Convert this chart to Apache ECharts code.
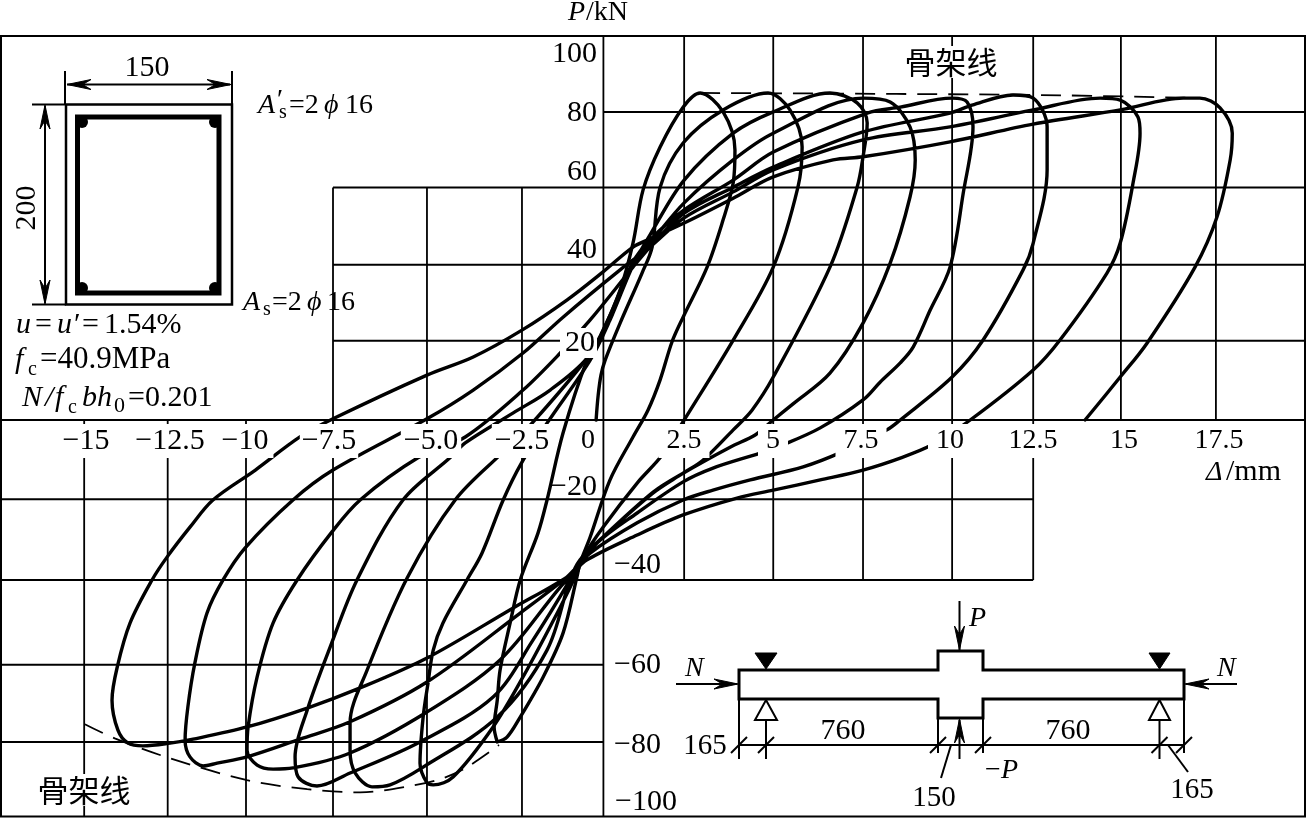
<!DOCTYPE html>
<html>
<head>
<meta charset="utf-8">
<style>
  html, body { margin: 0; padding: 0; background: #fff; }
  #chart { width: 1306px; height: 818px; }
</style>
<script src="https://cdn.jsdelivr.net/npm/echarts@6/dist/echarts.min.js"></script>
</head>
<body>
<div id="chart"></div>
<script>
// hysteresis traces, [deflection mm, load kN]
const cycle1 = [[-3.05,-81.7],[-3.14,-77.9],[-3.05,-71.1],[-2.97,-63.5],[-2.68,-51.5],[-2.39,-40.6],[-1.88,-28.7],[-1.62,-20.3],[-1.16,-3.3],[-0.47,15.2],[-0.09,21.1],[0.48,33.0],[0.85,44.9],[1.14,58.4],[1.63,69.3],[2.29,79.4],[2.78,83.0],[3.44,78.2],[3.78,68.5],[3.73,60.2],[3.44,50.8],[2.98,38.8],[2.29,26.1],[1.97,19.8],[1.63,10.2],[1.28,2.5],[0.85,-4.3],[0.19,-15.2],[-0.38,-29.7],[-0.67,-36.3],[-0.76,-39.8],[-1.16,-54.1],[-1.73,-65.2],[-2.39,-75.4],[-2.77,-80.5],[-3.05,-81.7]];
const cycle2 = [[-0.21,0],[-0.15,6.3],[-0.07,11.4],[0.05,15.2],[0.48,24.6],[1.11,37.3],[1.40,43.9],[1.63,59.1],[2.29,70.3],[3.44,78.7],[4.73,83.0],[5.36,78.7],[5.71,69.3],[5.59,59.1],[4.88,38.8],[3.73,20.3],[2.32,0],[1.69,-8.9],[0.97,-16.0],[-0.01,-27.2],[-0.58,-34.8],[-0.76,-38.8],[-1.24,-47.5],[-2.31,-65.2],[-3.17,-77.9],[-4.32,-90.6],[-4.89,-92.6],[-5.07,-92.1],[-5.27,-87.1],[-5.18,-75.4],[-5.04,-66.8],[-4.89,-58.4],[-4.61,-51.5],[-3.92,-40.6],[-3.49,-33.8],[-2.88,-20.3],[-2.34,-10.7],[-1.62,-0.8],[-0.38,15.2],[0.19,25.4],[0.85,39.3]];
const cycle3 = [[1.34,47.0],[2.32,60.9],[3.73,72.8],[4.88,78.2],[6.51,83.0],[7.29,80.5],[7.58,75.4],[7.46,66.8],[7.29,59.1],[6.51,38.8],[4.88,10.9],[4.27,2.5],[3.73,-2.5],[2.86,-10.2],[2.29,-13.5],[1.43,-18.5],[-0.01,-29.7],[-0.67,-35.5],[-0.96,-40.6],[-1.62,-58.4],[-3.05,-75.4],[-5.18,-88.1],[-6.13,-92.6],[-6.65,-93.1],[-7.13,-89.6],[-7.28,-83.8],[-7.28,-76.9],[-6.79,-63.5],[-5.64,-40.1],[-4.26,-20.3],[-2.88,-8.1],[-2.05,-0.8],[-0.47,15.7],[0.19,25.4],[0.85,40.1]];
const cycle4 = [[1.34,44.9],[2.32,55.1],[3.73,66.0],[4.88,72.8],[7.46,81.7],[8.24,80.7],[8.81,74.4],[8.96,66.0],[8.81,56.6],[8.24,39.8],[7.46,24.6],[6.51,11.9],[5.45,4.1],[4.88,0],[4.36,-3.8],[3.64,-6.9],[2.29,-13.5],[1.43,-18.3],[-0.01,-29.7],[-0.67,-35.5],[-0.96,-40.6],[-2.02,-55.8],[-3.17,-70.3],[-5.27,-81.7],[-7.28,-89.6],[-8.23,-92.9],[-8.77,-90.6],[-8.86,-85.5],[-8.51,-73.6],[-7.85,-57.6],[-7.08,-40.6],[-5.76,-20.3],[-4.41,-9.6],[-3.97,-5.8],[-2.59,1.8],[-1.53,7.6],[-0.47,15.7],[0.19,26.6],[0.85,40.1]];
const cycle5 = [[1.34,45.7],[2.32,53.3],[3.73,60.9],[4.88,68.0],[7.58,77.9],[8.53,79.4],[10.02,81.7],[10.45,80.7],[10.62,74.4],[10.34,57.6],[9.96,38.8],[9.39,27.9],[8.90,18.5],[8.53,14.5],[7.95,9.6],[7.46,5.1],[6.23,-2.0],[5.16,-6.3],[4.50,-8.4],[3.15,-12.2],[2.29,-15.7],[0.97,-23.6],[-0.18,-31.2],[-0.81,-38.6],[-1.24,-42.4],[-2.97,-60.9],[-5.07,-74.1],[-7.28,-84.5],[-8.92,-88.3],[-9.49,-88.6],[-9.95,-87.6],[-10.24,-83.8],[-10.21,-77.9],[-9.95,-65.2],[-9.49,-51.5],[-8.80,-40.6],[-7.80,-28.4],[-6.99,-20.3],[-5.33,-9.6],[-3.97,-4.3],[-2.31,7.6],[-1.24,17.0],[-0.38,25.4],[0.85,38.8]];
const cycle6 = [[1.34,43.9],[2.32,52.5],[3.73,59.1],[4.88,64.2],[7.46,73.1],[9.96,77.9],[10.59,79.9],[11.77,82.5],[12.35,81.7],[12.75,74.4],[12.75,63.5],[12.35,44.9],[12.06,38.1],[10.91,20.3],[10.02,10.9],[8.53,0],[8.15,-2.5],[6.86,-8.1],[5.74,-11.9],[4.22,-15.2],[3.15,-17.8],[2.29,-20.3],[0.97,-26.1],[-0.38,-33.8],[-1.04,-39.8],[-2.39,-49.0],[-5.07,-66.5],[-7.28,-76.6],[-8.72,-81.0],[-10.24,-85.5],[-11.10,-87.1],[-11.50,-87.8],[-11.88,-85.5],[-12.02,-81.2],[-11.94,-72.8],[-11.74,-61.7],[-11.39,-49.0],[-10.93,-40.6],[-10.30,-32.5],[-8.92,-20.3],[-7.77,-12.7],[-5.07,0.3],[-3.74,7.6],[-2.31,17.0],[-1.16,26.1],[0.48,38.1]];
const cycle7 = [[1.34,43.9],[2.32,51.3],[3.73,57.9],[4.88,63.5],[7.46,71.1],[9.96,74.4],[12.35,78.7],[14.27,81.7],[14.85,81.2],[15.36,76.9],[15.42,72.8],[15.22,60.2],[14.85,44.9],[14.47,37.3],[13.12,20.3],[12.35,12.7],[10.54,0],[9.44,-6.3],[8.61,-9.4],[7.46,-12.7],[6.23,-15.2],[4.88,-17.8],[3.84,-19.8],[2.29,-24.1],[0.97,-29.2],[-0.47,-35.5],[-1.04,-39.8],[-2.59,-47.7],[-5.07,-60.4],[-6.99,-68.0],[-8.51,-73.1],[-10.24,-77.9],[-11.79,-81.0],[-12.45,-82.0],[-13.23,-82.7],[-13.66,-82.0],[-13.95,-78.7],[-14.12,-71.1],[-13.97,-62.7],[-13.60,-51.5],[-12.97,-40.6],[-12.54,-34.8],[-11.88,-27.2],[-11.22,-20.3],[-10.0,-12.7],[-8.72,-4.3],[-7.77,0.3],[-5.07,11.4],[-3.74,16.0],[-2.34,22.8],[-1.04,30.5],[-0.01,37.6],[0.85,43.9]];
const cycle8 = [[1.34,46.0],[2.32,50.0],[3.73,56.3],[4.88,61.7],[6.60,66.0],[7.46,66.8],[9.96,70.6],[12.35,75.1],[14.85,78.7],[16.66,81.7],[17.14,81.7],[17.72,79.2],[18.07,72.8],[18.01,66.0],[17.63,51.5],[17.0,38.8],[15.62,19.5],[14.85,10.9],[13.84,0]];
const loadPath = [].concat(cycle2, cycle3, cycle4, cycle5, cycle6, cycle7, cycle8);

// 骨架线 (dashed envelopes)
const skeletonUpper = [[2.78,83.0],[12.35,82.5],[17.14,81.7]];
const skeletonLower = [[-14.9,-77.2],[-14.04,-80.8],[-12.54,-85.6],[-10.24,-91.4],[-8.51,-93.7],[-6.99,-94.5],[-5.43,-92.7],[-4.61,-90.9],[-3.92,-88.1],[-3.0,-82.5]];

// the source grid is hand ruled, so these are where the lines really are
const vGridX = [-14.92,-12.52,-10.27,-7.77,-5.07,-2.34,0,2.32,4.88,7.46,10.02,12.35,14.87,17.60];
const vGridFrom = [-100.63,-100.63,-100.63,-100.63,-100.63,-100.63,-100.63,-40.6,-40.6,-40.6,-40.6,-40.6,0,0];
const vGridTo = [0,0,0,59.0,59.0,59.0,97.46,97.46,97.46,97.46,97.46,97.46,97.46,97.46];
const hGridY = [78.2,59.0,39.4,20.1,0,-20.1,-40.6,-62.1,-81.7];
const hGridFrom = [0,-7.77,-7.77,-7.77,-17.31,-17.31,-17.31,-17.31,-17.31];
const hGridTo = [20.16,20.16,20.16,20.16,20.16,12.35,12.35,0,0];

const xTickLabels = ['−15','−12.5','−10','−7.5','−5.0','−2.5','0','2.5','5','7.5','10','12.5','15','17.5'];
const yTickLabels = ['100','80','60','40','20','−20','−40','−60','−80','−100'];

const FONT = '"Liberation Serif", "Times New Roman", serif';
const xTickPos = [86,170,245,329,431,522,588,684,773,861,950,1033,1124,1219];
const xTickPad = [5,5,5,2,3,3,6,8,8,8,8,8,8,8];
const xTickSize = [30,30,30,30,30,30,28,28,28,28,28,28,28,28];
const yTickPos = [[597,54],[597,113],[597,172],[597,250],[597,343],[597,487],[661,565],[661,665],[661,745],[677,802]];

const chart = echarts.init(document.getElementById('chart'), null, {renderer: 'canvas'});
const els = [];

// y is the text baseline unless valign is given
function text(x, y, str, o) {
  o = o || {};
  const size = o.size || 28;
  const el = {
    type: 'text', z: o.z || 20, x: x, y: o.valign ? y : y - 0.27 * size, rotation: o.rotation || 0,
    style: {
      text: str, fill: '#000',
      font: (o.italic ? 'italic ' : '') + size + 'px ' + (o.family || FONT),
      align: o.align || 'left', verticalAlign: o.valign || 'middle'
    }
  };
  if (o.bg) {
    el.style.backgroundColor = '#fff';
    el.style.padding = o.pad || [0, 2, 0, 2];
    el.style.lineHeight = o.lh || 30;
  }
  els.push(el);
}
function seg(x1, y1, x2, y2, w) {
  els.push({type: 'line', z: 15, shape: {x1: x1, y1: y1, x2: x2, y2: y2}, style: {stroke: '#000', lineWidth: w || 2}});
}
function poly(pts, fill, w) {
  els.push({type: 'polygon', z: 16, shape: {points: pts}, style: {fill: fill || '#000', stroke: '#000', lineWidth: w || 1, lineJoin: 'miter'}});
}
// slim notched arrow head, tip at x,y pointing along dx,dy
function head(x, y, dx, dy, len, half) {
  len = len || 24; half = half || 5;
  poly([[x, y], [x - dx * len - dy * half, y - dy * len - dx * half],
    [x - dx * len * 0.65, y - dy * len * 0.65], [x - dx * len + dy * half, y - dy * len + dx * half]]);
}

// tick labels, only the row under the zero line and "20" blank out what runs behind them
xTickLabels.forEach(function (t, i) {
  text(xTickPos[i], 441, t, {size: xTickSize[i], align: 'center', valign: 'middle', bg: true, pad: [0, xTickPad[i], 4, xTickPad[i]]});
});
yTickLabels.forEach(function (t, i) {
  text(yTickPos[i][0], yTickPos[i][1], t, {size: 30, align: 'right', valign: 'middle', bg: t === '20', pad: [0, 2, 0, 5]});
});

// axis titles
text(568, 20, 'P', {italic: true});
text(586, 20, '/kN');
text(1206, 480, 'Δ', {italic: true});
text(1226, 480, '/mm', {size: 30});
text(951, 62, '骨架线', {align: 'center', valign: 'middle', size: 31, family: '"Noto Sans CJK SC"', bg: true, lh: 32});
text(84, 790, '骨架线', {align: 'center', valign: 'middle', size: 31, family: '"Noto Sans CJK SC"', bg: true, lh: 32});

// section inset
els.push({type: 'rect', z: 15, shape: {x: 66, y: 104.5, width: 166, height: 200}, style: {fill: 'none', stroke: '#000', lineWidth: 2.5}});
els.push({type: 'rect', z: 15, shape: {x: 77.5, y: 117, width: 141.5, height: 176}, style: {fill: 'none', stroke: '#000', lineWidth: 5}});
seg(65, 71, 65, 104); seg(232, 71, 232, 104);
seg(32, 104.5, 66, 104.5); seg(32, 304.5, 66, 304.5);
seg(67, 84.5, 230, 84.5);
head(67, 84.5, -1, 0); head(231, 84.5, 1, 0);
seg(45, 106, 45, 303);
head(45, 105, 0, -1); head(45, 304, 0, 1);
[[82, 122], [215, 122], [82, 288], [215, 288]].forEach(function (c) {
  els.push({type: 'circle', z: 16, shape: {cx: c[0], cy: c[1], r: 6}, style: {fill: '#000'}});
});
text(147, 76, '150', {size: 30, align: 'center'});
text(27, 208, '200', {size: 30, align: 'center', valign: 'middle', rotation: Math.PI / 2});

text(258, 113, 'A', {italic: true});
text(277, 108, '′');
text(279, 118, 's', {size: 20});
text(289, 113, '=2');
text(324, 113, 'ϕ', {italic: true});
text(345, 113, '16');

text(243, 310, 'A', {italic: true});
text(263, 315, 's', {size: 20});
text(272, 310, '=2');
text(307, 310, 'ϕ', {italic: true});
text(327, 310, '16');

text(16, 333, 'u', {italic: true, size: 30});
text(35, 333, '=', {size: 30});
text(57, 333, 'u', {italic: true, size: 30});
text(74, 333, '′', {size: 30});
text(82, 333, '=', {size: 30});
text(104, 333, '1.54%', {size: 30});

text(15, 368, 'f', {italic: true, size: 30});
text(28, 375, 'c', {size: 20});
text(40, 368, '=40.9MPa', {size: 31});

text(22, 406, 'N', {italic: true, size: 30});
text(45, 406, '/', {italic: true, size: 30});
text(55, 406, 'f', {italic: true, size: 30});
text(68, 413, 'c', {size: 20});
text(82, 406, 'b', {italic: true, size: 30});
text(97, 406, 'h', {italic: true, size: 30});
text(114, 412, '0', {size: 22});
text(128, 406, '=0.201', {size: 30});

// beam inset
poly([[739, 670], [938, 670], [938, 651], [983, 651], [983, 670], [1184, 670], [1184, 699], [983, 699], [983, 718], [938, 718], [938, 699], [739, 699]], '#fff', 3);
poly([[755, 653], [777, 653], [766, 669]]);
poly([[1149, 653], [1170, 653], [1159.5, 669]]);
poly([[766, 700], [777, 720], [755, 720]], '#fff', 2);
poly([[1159.5, 700], [1170, 720], [1149, 720]], '#fff', 2);
seg(766, 720, 766, 759); seg(1159.5, 720, 1159.5, 759);
seg(739, 699, 739, 759); seg(938, 718, 938, 753); seg(983, 718, 983, 753); seg(1184, 699, 1184, 753);
seg(739, 745, 1184, 745);
[739, 766, 938, 983, 1159.5, 1184].forEach(function (x) { seg(x - 8, 753, x + 8, 737); });
seg(959.5, 601, 959.5, 650); head(959.5, 650, 0, 1);
seg(959.5, 759, 959.5, 720); head(959.5, 719, 0, -1);
text(969, 626, 'P', {italic: true});
text(985, 778, '−');
text(1001, 778, 'P', {italic: true});
seg(676, 684, 737, 684); head(738, 684, 1, 0);
seg(1237, 684, 1186, 684); head(1185, 684, -1, 0);
text(685, 676, 'N', {italic: true});
text(1217, 676, 'N', {italic: true});
text(843, 739, '760', {size: 30, align: 'center'});
text(1068, 739, '760', {size: 30, align: 'center'});
text(705, 754, '165', {size: 29, align: 'center'});
text(934, 806, '150', {size: 29, align: 'center'});
text(1192, 798, '165', {size: 29, align: 'center'});
seg(941, 778, 951, 745); seg(1188, 772, 1168, 745);

const series = [];
vGridX.forEach(function (x, i) {
  series.push({type: 'line', z: 1, silent: true, showSymbol: false, animation: false,
    lineStyle: {color: '#000', width: 1.8},
    data: [[x, vGridFrom[i]], [x, vGridTo[i]]]});
});
hGridY.forEach(function (y, i) {
  series.push({type: 'line', z: 1, silent: true, showSymbol: false, animation: false,
    lineStyle: {color: '#000', width: 2},
    data: [[hGridFrom[i], y], [hGridTo[i], y]]});
});
[cycle1, loadPath].forEach(function (c) {
  series.push({type: 'line', z: 3, smooth: 0.33, showSymbol: false, animation: false,
    lineStyle: {color: '#000', width: 3.4, cap: 'round', join: 'round'}, data: c});
});
[skeletonUpper, skeletonLower].forEach(function (c) {
  series.push({type: 'line', z: 2, smooth: 0.33, showSymbol: false, animation: false,
    lineStyle: {color: '#000', width: 1.8, type: [20, 11]}, data: c});
});

chart.setOption({
  backgroundColor: '#fff',
  animation: false,
  grid: {left: 1, right: 1, top: 36, bottom: 1.5, show: true, borderColor: '#000', borderWidth: 2, backgroundColor: 'transparent'},
  xAxis: {type: 'value', min: -17.31, max: 20.16, axisLine: {show: false}, axisTick: {show: false}, axisLabel: {show: false}, splitLine: {show: false}},
  yAxis: {type: 'value', min: -100.63, max: 97.46, axisLine: {show: false}, axisTick: {show: false}, axisLabel: {show: false}, splitLine: {show: false}},
  series: series,
  graphic: {elements: els}
});
</script>
</body>
</html>
